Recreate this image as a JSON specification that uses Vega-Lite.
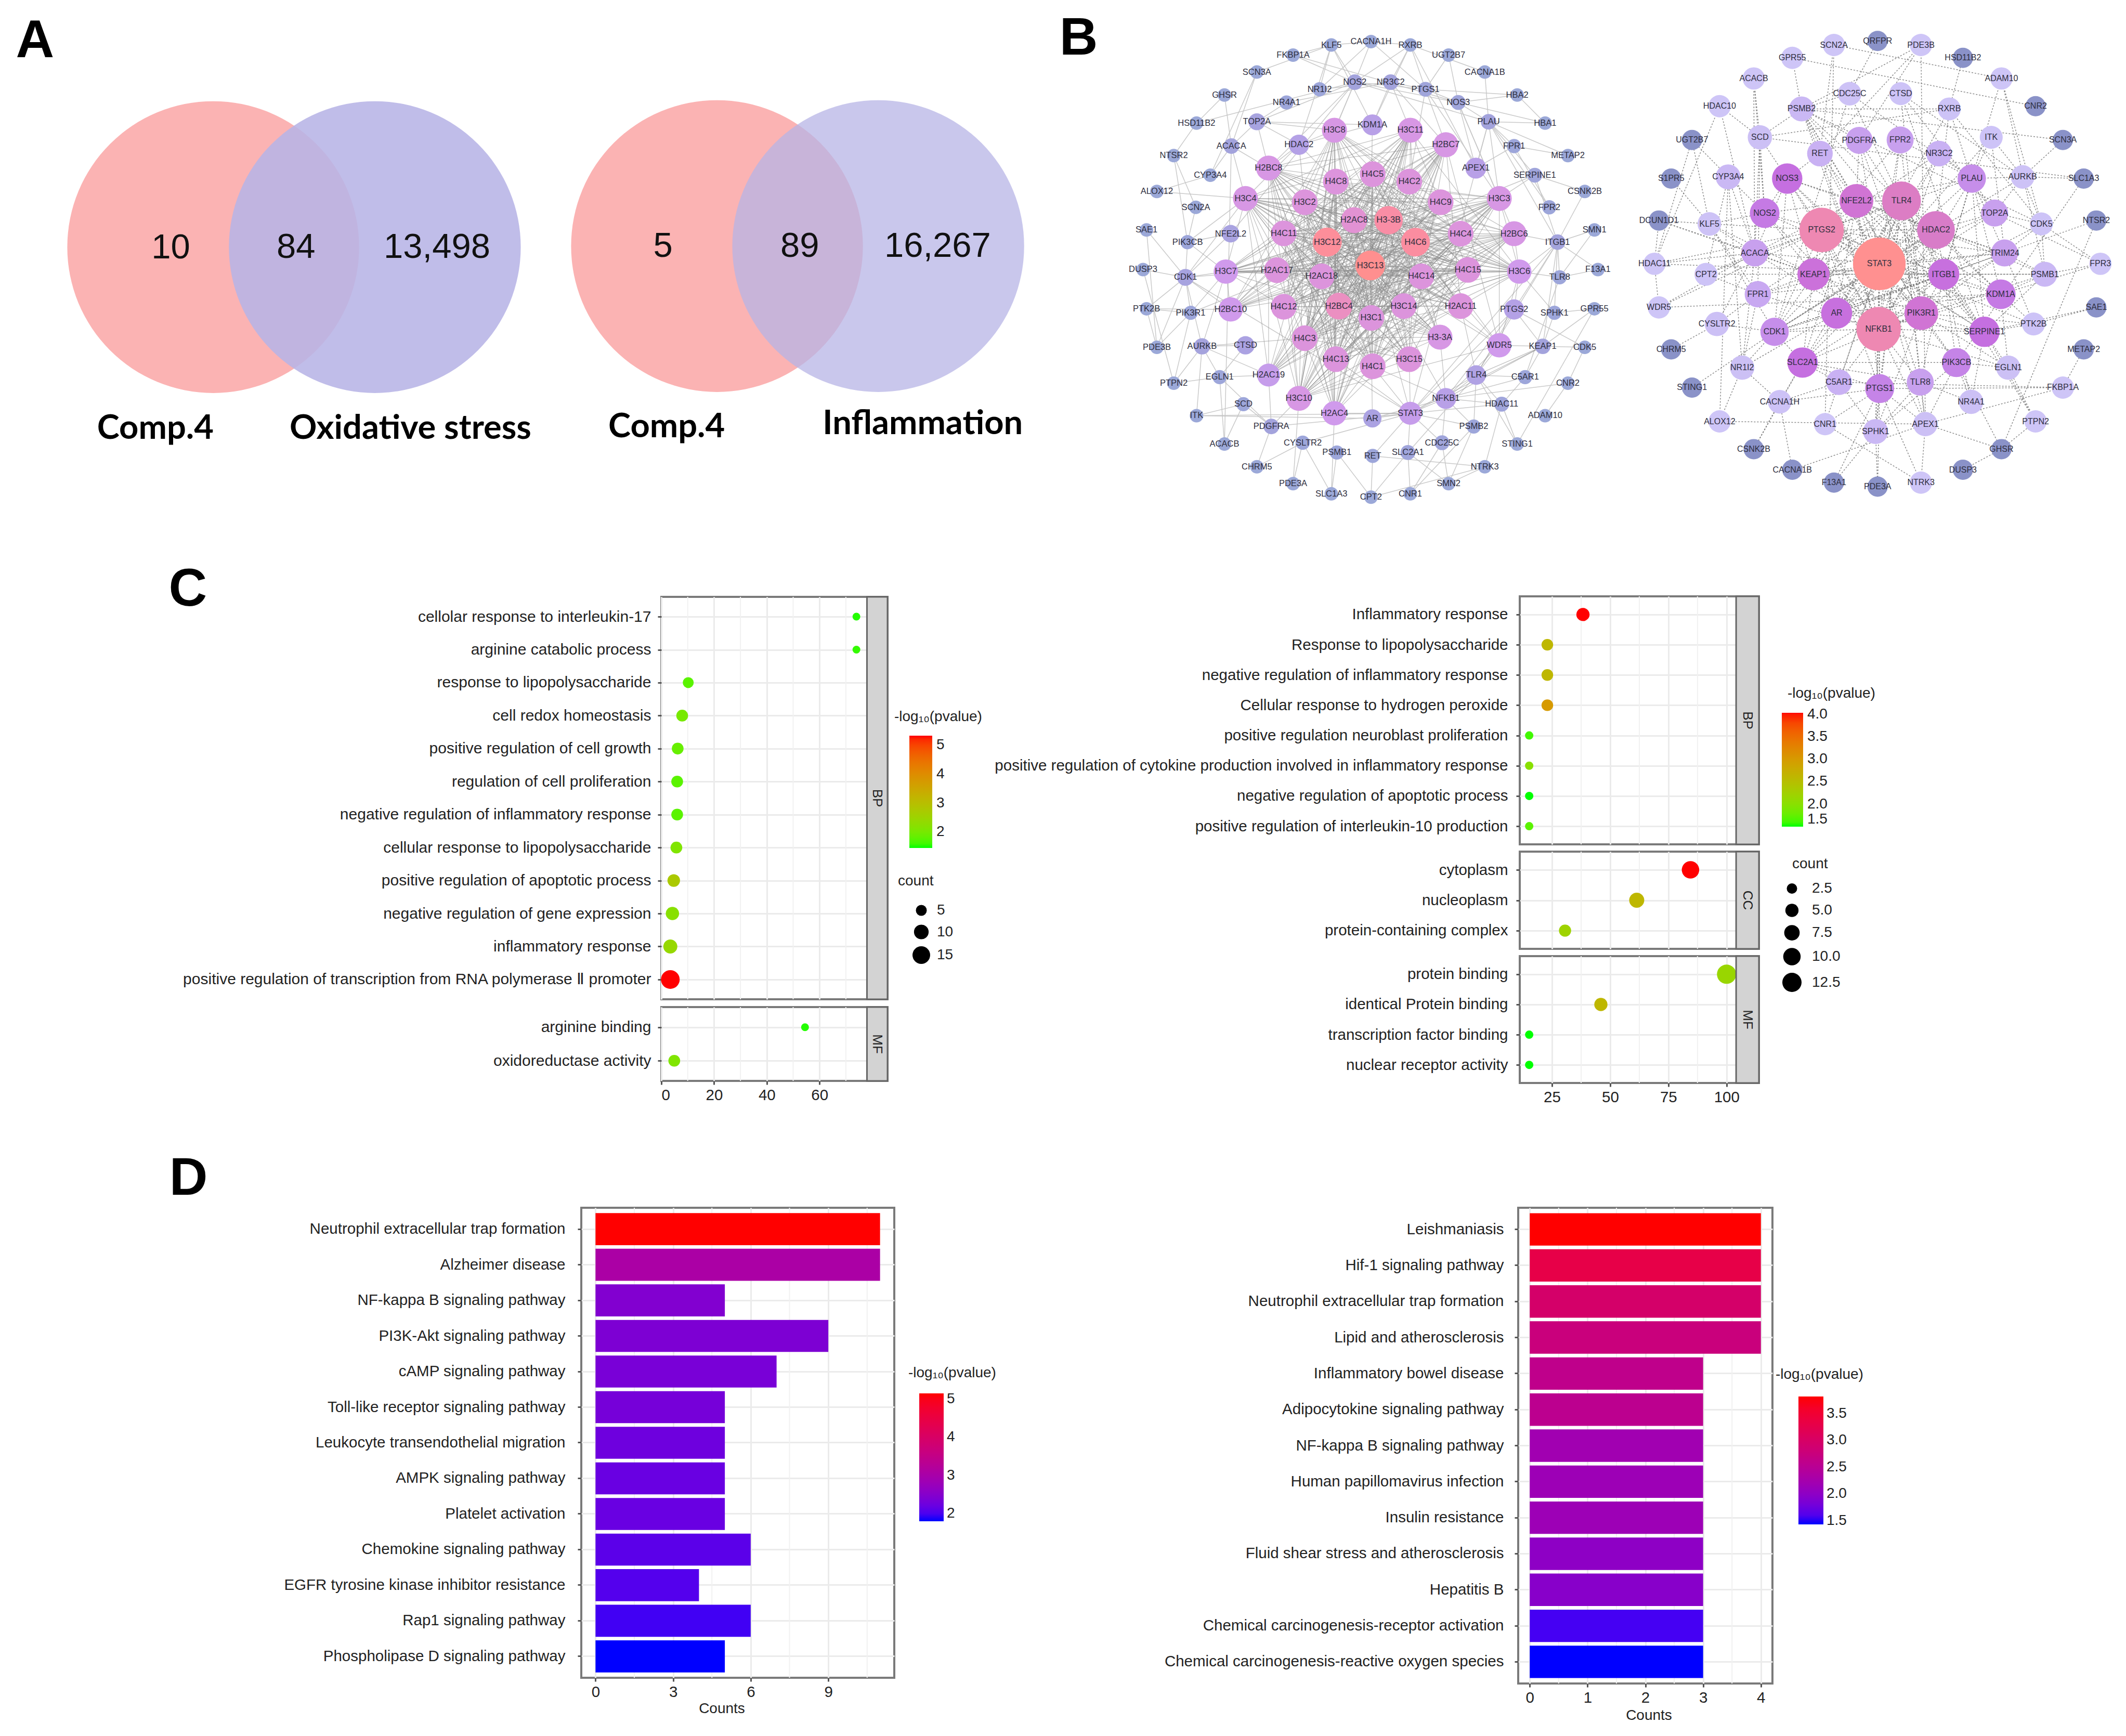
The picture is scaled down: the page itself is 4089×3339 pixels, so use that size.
{"$schema":"https://vega.github.io/schema/vega-lite/v6.json","padding":0,"background":"white","autosize":{"type":"pad"},
"resolve":{"scale":{"color":"independent","size":"independent","opacity":"independent"}},
"config":{"view":{"stroke":null},"font":"Liberation Sans","axis":{"labelFont":"Liberation Sans","titleFont":"Liberation Sans","labelFontSize":29.5,"titleFontSize":28,"titleFontWeight":"normal","labelColor":"#222","titleColor":"#222","tickColor":"#555","tickWidth":3,"tickSize":7,"domain":false,"gridColor":"#ebebeb","gridWidth":3,"labelLimit":1200,"labelPadding":8},"legend":{"titleFontSize":28,"titleFontWeight":"normal","labelFontSize":28,"titleColor":"#222","labelColor":"#222","gradientStrokeWidth":0,"labelOverlap":false,"titleLimit":400}},
"datasets":{
"n1":[{"id":"KLF5","x":785,"y":133,"d":40},{"id":"CACNA1H","x":900,"y":123,"d":40},{"id":"RXRB","x":1014,"y":133,"d":40},{"id":"UGT2B7","x":1125,"y":163,"d":40},{"id":"CACNA1B","x":1230,"y":213,"d":40},{"id":"HBA2","x":1324,"y":281,"d":40},{"id":"HBA1","x":1405,"y":364,"d":40},{"id":"METAP2","x":1471,"y":460,"d":40},{"id":"CSNK2B","x":1520,"y":566,"d":40},{"id":"SMN1","x":1548,"y":680,"d":40},{"id":"F13A1","x":1558,"y":797,"d":40},{"id":"GPR55","x":1548,"y":913,"d":40},{"id":"CDK5","x":1520,"y":1027,"d":40},{"id":"CNR2","x":1471,"y":1133,"d":40},{"id":"ADAM10","x":1405,"y":1229,"d":40},{"id":"STING1","x":1324,"y":1313,"d":40},{"id":"NTRK3","x":1230,"y":1380,"d":40},{"id":"SMN2","x":1125,"y":1430,"d":40},{"id":"CNR1","x":1014,"y":1460,"d":40},{"id":"CPT2","x":900,"y":1470,"d":40},{"id":"SLC1A3","x":785,"y":1460,"d":40},{"id":"PDE3A","x":674,"y":1430,"d":40},{"id":"CHRM5","x":569,"y":1380,"d":40},{"id":"ACACB","x":475,"y":1313,"d":40},{"id":"ITK","x":394,"y":1229,"d":40},{"id":"PTPN2","x":328,"y":1133,"d":40},{"id":"PDE3B","x":279,"y":1027,"d":40},{"id":"PTK2B","x":249,"y":913,"d":40},{"id":"DUSP3","x":239,"y":797,"d":40},{"id":"SAE1","x":249,"y":680,"d":40},{"id":"ALOX12","x":279,"y":566,"d":40},{"id":"NTSR2","x":328,"y":460,"d":40},{"id":"HSD11B2","x":394,"y":364,"d":40},{"id":"GHSR","x":475,"y":281,"d":40},{"id":"SCN3A","x":569,"y":213,"d":40},{"id":"FKBP1A","x":674,"y":163,"d":40},
{"id":"NOS2","x":853,"y":243,"d":46},{"id":"NR3C2","x":957,"y":243,"d":46},{"id":"PTGS1","x":1058,"y":264,"d":44},{"id":"NOS3","x":1153,"y":303,"d":44},{"id":"PLAU","x":1241,"y":360,"d":46},{"id":"FPR1","x":1315,"y":432,"d":42},{"id":"SERPINE1","x":1375,"y":518,"d":44},{"id":"FPR2","x":1417,"y":613,"d":42},{"id":"ITGB1","x":1441,"y":716,"d":46},{"id":"TLR8","x":1447,"y":820,"d":42},{"id":"SPHK1","x":1432,"y":925,"d":42},{"id":"KEAP1","x":1398,"y":1024,"d":46},{"id":"C5AR1","x":1347,"y":1115,"d":42},{"id":"HDAC11","x":1279,"y":1195,"d":44},{"id":"PSMB2","x":1198,"y":1261,"d":42},{"id":"CDC25C","x":1106,"y":1309,"d":44},{"id":"SLC2A1","x":1007,"y":1338,"d":44},{"id":"RET","x":905,"y":1348,"d":42},{"id":"PSMB1","x":801,"y":1338,"d":42},{"id":"CYSLTR2","x":702,"y":1309,"d":42},{"id":"PDGFRA","x":611,"y":1261,"d":46},{"id":"SCD","x":530,"y":1195,"d":42},{"id":"EGLN1","x":461,"y":1115,"d":42},{"id":"AURKB","x":410,"y":1024,"d":48},{"id":"PIK3R1","x":377,"y":925,"d":42},{"id":"CDK1","x":362,"y":820,"d":50},{"id":"PIK3CB","x":368,"y":716,"d":42},{"id":"SCN2A","x":392,"y":613,"d":40},{"id":"CYP3A4","x":434,"y":518,"d":40},{"id":"ACACA","x":495,"y":432,"d":46},{"id":"TOP2A","x":569,"y":360,"d":50},{"id":"NR4A1","x":655,"y":303,"d":42},{"id":"NR1I2","x":751,"y":264,"d":42},
{"id":"KDM1A","x":904,"y":369,"d":62},{"id":"H3C11","x":1014,"y":385,"d":74},{"id":"H2BC7","x":1117,"y":428,"d":74},{"id":"APEX1","x":1204,"y":497,"d":62},{"id":"H3C3","x":1272,"y":587,"d":74},{"id":"H2BC6","x":1315,"y":691,"d":74},{"id":"H3C6","x":1330,"y":803,"d":72},{"id":"PTGS2","x":1315,"y":915,"d":60},{"id":"WDR5","x":1272,"y":1021,"d":72},{"id":"TLR4","x":1205,"y":1109,"d":58},{"id":"NFKB1","x":1117,"y":1178,"d":62},{"id":"STAT3","x":1014,"y":1222,"d":68},{"id":"AR","x":904,"y":1237,"d":54},{"id":"H2AC4","x":794,"y":1222,"d":72},{"id":"H3C10","x":691,"y":1178,"d":74},{"id":"H2AC19","x":603,"y":1109,"d":68},{"id":"CTSD","x":536,"y":1021,"d":54},{"id":"H2BC10","x":493,"y":915,"d":72},{"id":"H3C7","x":479,"y":803,"d":72},{"id":"NFE2L2","x":493,"y":691,"d":52},{"id":"H3C4","x":536,"y":587,"d":74},{"id":"H2BC8","x":603,"y":497,"d":74},{"id":"HDAC2","x":691,"y":428,"d":60},{"id":"H3C8","x":794,"y":385,"d":74},
{"id":"H4C5","x":905,"y":515,"d":76},{"id":"H4C2","x":1011,"y":537,"d":76},{"id":"H4C9","x":1102,"y":598,"d":76},{"id":"H4C4","x":1160,"y":691,"d":76},{"id":"H4C15","x":1181,"y":798,"d":76},{"id":"H2AC11","x":1160,"y":905,"d":76},{"id":"H3-3A","x":1100,"y":997,"d":74},{"id":"H3C15","x":1011,"y":1062,"d":76},{"id":"H4C1","x":905,"y":1083,"d":76},{"id":"H4C13","x":798,"y":1062,"d":76},{"id":"H4C3","x":708,"y":1000,"d":76},{"id":"H4C12","x":647,"y":907,"d":76},{"id":"H2AC17","x":627,"y":799,"d":76},{"id":"H4C11","x":647,"y":690,"d":76},{"id":"H3C2","x":708,"y":598,"d":76},{"id":"H4C8","x":798,"y":537,"d":76},
{"id":"H2AC8","x":851,"y":651,"d":77},{"id":"H3-3B","x":951,"y":651,"d":84},{"id":"H4C6","x":1029,"y":716,"d":85},{"id":"H4C14","x":1046,"y":817,"d":76},{"id":"H3C14","x":995,"y":905,"d":76},{"id":"H3C1","x":901,"y":940,"d":76},{"id":"H2BC4","x":807,"y":905,"d":79},{"id":"H2AC18","x":757,"y":817,"d":76},{"id":"H3C12","x":773,"y":716,"d":86},{"id":"H3C13","x":898,"y":785,"d":88}],
"e1":[
{"s":"H3C13","t":["H3C12","H4C6","H3-3B","H2AC8","H2AC18","H4C14","H3C14","H3C1","H2BC4","H4C5","H4C2","H4C9","H4C4","H4C15","H2AC11","H3-3A","H3C15","H4C1","H4C13","H4C3","H4C12","H2AC17","H4C11","H3C2","H4C8","H3C11","H2BC7","H3C3","H2BC6","H3C6","H3C10","H2AC4","H2AC19","H2BC10","H3C7","H3C4","H2BC8","H3C8","WDR5","STAT3","NFKB1","KDM1A","AR"]},
{"s":"H3C12","t":["H4C6","H3-3B","H2AC8","H4C14","H3C14","H3C1","H2BC4","H4C5","H4C2","H4C9","H4C4","H4C15","H2AC11","H3-3A","H3C15","H4C1","H4C13","H4C3","H4C12","H2AC17","H4C11","H3C2","H4C8","H3C11","H2BC7","H3C3","H2BC6","H3C6","H3C10","H2AC4","H2AC19","H2BC10","H3C7","H3C4","H2BC8","H3C8"]},
{"s":"H4C6","t":["H3-3B","H2AC8","H2AC18","H3C14","H3C1","H2BC4","H4C5","H4C8","H3C2","H4C11","H2AC17","H4C12","H4C3","H4C13","H4C1","H3C15","H3-3A","H2AC11","H4C15","H3C3","H2BC6","H3C6","H3C10","H2AC4","H2AC19","H2BC10","H3C7","H3C4","H2BC8","H3C8","H3C11","H2BC7"]},
{"s":"H3-3B","t":["H2AC18","H4C14","H3C14","H3C1","H2BC4","H4C3","H4C13","H4C1","H3C15","H3-3A","H2AC11","H4C15","H4C12","H2AC17","H4C11","H3C10","H2AC4","H2AC19","H2BC10","H3C7","H3C6","WDR5"]},
{"s":"H2BC4","t":["H4C5","H4C2","H4C9","H4C4","H4C15","H2AC11","H3-3A","H3C15","H4C14","H2AC8","H3C2","H4C8","H3C11","H2BC7","H3C3","H2BC6","H3C6","H3C4","H2BC8","H3C8","H4C11"]},
{"s":"H3C1","t":["H4C5","H4C2","H4C8","H3C2","H4C9","H4C4","H4C11","H2AC17","H4C15","H3C4","H3C8","H3C11","H2BC8","H2BC7","H3C3","H2BC6","H3C7","H3C6","H2AC8","H2AC18"]},
{"s":"H4C5","t":["H4C1","H4C13","H3C15","H4C3","H3-3A","H4C12","H2AC11","H2AC17","H4C15","H4C11","H4C4","H3C7","H3C6","H3C10","H2AC4","WDR5","H2AC19","H2BC10","H2AC18","H4C14"]},
{"s":"H4C1","t":["H4C8","H4C2","H3C2","H4C9","H4C11","H4C4","H2AC17","H4C15","H3C4","H3C3","H3C8","H3C11","H2BC8","H2BC7","H2AC8","H2BC6"]},
{"s":"H4C11","t":["H4C4","H4C15","H2AC11","H4C14","H3C14","H3-3A","H3C15","H3C6","H2BC6","H3C3","H4C9","H2AC4","H3C10","H3C11","H2BC7","H3C8","H2BC10"]},
{"s":"H4C15","t":["H2AC17","H4C12","H2AC18","H2AC8","H3C7","H3C4","H2BC8","H2BC10","H3C10","H2AC19","H3C8","H3C2","H4C3"]},
{"s":"H2AC17","t":["H3C7","H4C14","H3C14","H3C3","H3C6","H2BC6","H4C4","H4C9","H2AC11","H3-3A","H2BC7"]},
{"s":"H3C7","t":["H3C6","H4C12","H4C11","H2AC18","H2BC10","H3C4","H4C14","CDK1","PIK3CB","PIK3R1","AURKB"]},
{"s":"H3C6","t":["H2AC11","H4C4","H2BC6","H3C3","WDR5","PTGS2","H2AC18","ITGB1","TLR8","SPHK1"]},
{"s":"STAT3","t":["AR","NFKB1","TLR4","H2AC4","KEAP1","H4C13","H3C15","H4C1"]},
{"s":"NFKB1","t":["TLR4","WDR5","KEAP1","H3-3A","H4C1"]},
{"s":"TLR4","t":["WDR5","KEAP1","PTGS2","H2AC11"]},
{"s":"H4C8","t":["H4C3","H4C13","H3C15","H4C12","H2AC11","H4C9","H4C4","H3C6","H2BC6","H3C3","H2AC18","H4C14","H3C14","H3C10","H2AC4"]},
{"s":"H3C2","t":["H4C9","H4C4","H3-3A","H3C15","H4C13","H4C14","H3C14","H2AC11","H4C15","H3C6","H2AC17","H4C12","H3C10","H2AC4"]},
{"s":"H4C9","t":["H4C3","H4C13","H4C12","H2AC18","H2AC8","H3C7","H2BC10","H2AC19","H3C10","H2AC4","H3C4","H3C14"]},
{"s":"H4C4","t":["H4C12","H4C3","H4C13","H2AC18","H2AC8","H3C10","H2BC10","H2AC19","H2BC8","H3C4"]},
{"s":"H4C12","t":["H4C14","H3C14","H2AC11","H3-3A","H3C15","H2BC6","H3C3","H3C11","H2BC7"]},
{"s":"H4C3","t":["H4C14","H3C14","H2AC11","H3-3A","H3C15","H3C3","H3C6","H2BC7","H3C11","H3C8"]},
{"s":"H4C13","t":["H4C14","H2AC11","H3-3A","H3C6","H3C3","H2BC6","H2BC7","H3C11","H3C8","H2BC8"]},
{"s":"H2AC18","t":["H4C14","H3C14","H2AC11","H3-3A","H3C3","H2BC7","H3C11","H3C10","H2AC4"]},
{"s":"H3C4","t":["H3C3","H2BC6","H3C6","H4C4","H4C15","H2AC11","H3-3A","H3C15","H4C1","H4C13","H3C10","H2AC4","H2AC19","H3C11","H2BC7","H3C14"]},
{"s":"H2BC8","t":["H3C3","H2BC6","H3C6","H2AC11","H3-3A","H3C15","H4C13","H4C3","H3C10","H2AC4","WDR5","H2AC19","H3C11","H2BC7","H4C4"]},
{"s":"H3C8","t":["H3C6","H2BC6","H2AC11","H3C15","H4C12","H4C3","H3C10","H2AC4","H2BC10","H2AC19","H3-3A","H4C9","H4C4"]},
{"s":"H3C11","t":["H2BC10","H3C7","H3C10","H2AC4","H2AC19","H4C3","H4C13","H4C12","H3C15","H4C15","H3C6"]},
{"s":"H2BC7","t":["H2BC10","H3C7","H3C10","H2AC4","H2AC19","WDR5","H4C3","H3C15","H2AC11"]},
{"s":"H3C3","t":["H2BC10","H3C7","H3C10","H2AC4","H2AC19","WDR5","H3C15","H4C13","H3C14"]},
{"s":"H2BC6","t":["H2BC10","H3C7","H3C10","H2AC4","H2AC19","H4C3","H4C12"]},
{"s":"H3C10","t":["WDR5","H2AC11","H3-3A","H3C15","H4C14","H3C14"]}],
"e1o":[
{"s":"STAT3","t":["SLC2A1","RET","CDC25C","PSMB2","CYSLTR2","PDGFRA","HDAC11","PTGS2","PLAU","ITGB1","CDK1"]},
{"s":"NFKB1","t":["C5AR1","HDAC11","PSMB2","CDC25C","PTGS2","AR"]},
{"s":"TLR4","t":["C5AR1","HDAC11","SLC2A1","PSMB2","ITGB1"]},
{"s":"KLF5","t":["NOS2","NR1I2","HDAC2","SCN3A","FKBP1A","KDM1A","CACNA1H"]},
{"s":"CACNA1H","t":["NR1I2","NOS2","RXRB","PTGS1"]},{"s":"RXRB","t":["NR3C2","NOS2","KDM1A","PTGS1","APEX1"]},{"s":"UGT2B7","t":["NOS3","PTGS1"]},{"s":"CACNA1B","t":["RXRB","PLAU"]},{"s":"HBA2","t":["HBA1","NOS3","PTGS1"]},{"s":"HBA1","t":["PLAU","NOS3"]},{"s":"METAP2","t":["PLAU","FPR1"]},{"s":"CSNK2B","t":["SERPINE1","ITGB1"]},{"s":"SMN1","t":["ITGB1","TLR8"]},{"s":"F13A1","t":["TLR8","ITGB1"]},{"s":"GPR55","t":["SPHK1","KEAP1","STING1"]},{"s":"CDK5","t":["KEAP1","PTGS2","CNR2"]},{"s":"CNR2","t":["ADAM10","NFKB1"]},{"s":"STING1","t":["TLR4","HDAC11"]},{"s":"NTRK3","t":["HDAC11","SMN2","RET"]},{"s":"SMN2","t":["PSMB2","CDC25C","SLC2A1"]},{"s":"CNR1","t":["SLC2A1","CDC25C","PSMB2"]},{"s":"CPT2","t":["RET","PSMB1","SLC2A1","NTRK3"]},{"s":"SLC1A3","t":["PSMB1","H2AC4","CYSLTR2"]},{"s":"PDE3A","t":["CYSLTR2","H3C10"]},{"s":"CHRM5","t":["PDGFRA","CYSLTR2"]},{"s":"ACACB","t":["SCD","EGLN1","ACACA"]},{"s":"ITK","t":["AR","STAT3","AURKB","SCD"]},{"s":"PTPN2","t":["EGLN1","AURKB","PIK3R1"]},{"s":"PDE3B","t":["PTK2B","PIK3R1","CDK1"]},{"s":"PTK2B","t":["PIK3R1","CDK1","H2BC10"]},{"s":"DUSP3","t":["PTPN2","CDK1"]},{"s":"SAE1","t":["CDK1","PDE3B"]},{"s":"ALOX12","t":["CYP3A4","H3C4"]},{"s":"NTSR2","t":["SCN2A","PIK3CB"]},{"s":"HSD11B2","t":["NOS2","NTSR2"]},{"s":"GHSR","t":["ACACA","HSD11B2"]},{"s":"SCN3A","t":["ACACA","CYP3A4"]},{"s":"FKBP1A","t":["NOS2","NOS3"]},
{"s":"NOS2","t":["NOS3","H3C8","NFE2L2","TOP2A","PLAU","PTGS1","H2BC8","H3C2"]},{"s":"NR3C2","t":["KDM1A","NR4A1","NR1I2","H3C11","H2BC7","PTGS1"]},{"s":"PTGS1","t":["NOS3","H2BC7","H3C3","H4C2"]},{"s":"NOS3","t":["PLAU","APEX1","H3C3","H2BC6"]},{"s":"PLAU","t":["FPR1","SERPINE1","APEX1","H3C3","ITGB1","FPR2"]},{"s":"FPR1","t":["APEX1","FPR2"]},{"s":"SERPINE1","t":["ITGB1","H3C3","PIK3R1"]},{"s":"ITGB1","t":["TLR8","SPHK1","KEAP1","H2BC6","PTGS2"]},{"s":"KEAP1","t":["WDR5","C5AR1","SPHK1","PTGS2"]},{"s":"C5AR1","t":["HDAC11","TLR8"]},{"s":"PDGFRA","t":["H3C10","H2AC19","EGLN1","SCD"]},{"s":"EGLN1","t":["H2AC19","AURKB","CTSD"]},{"s":"AURKB","t":["CDK1","CTSD","H2AC19","H4C3"]},{"s":"CDK1","t":["PIK3R1","H2BC10","H3C4","H2AC17","PIK3CB","NFE2L2"]},{"s":"PIK3CB","t":["H3C4","NFE2L2","SCN2A"]},{"s":"ACACA","t":["TOP2A","H2BC8","H3C4","CYP3A4"]},{"s":"TOP2A","t":["H2BC8","HDAC2","H3C8","KDM1A","NR4A1"]},{"s":"HDAC2","t":["H3C8","H3C4","H2BC8","H3C2","H4C8","KDM1A"]}],
"n2":[{"id":"QRFPR","x":840,"y":121,"d":60},{"id":"PDE3B","x":967,"y":133,"d":66},{"id":"HSD11B2","x":1090,"y":171,"d":60},{"id":"ADAM10","x":1203,"y":232,"d":66},{"id":"CNR2","x":1303,"y":314,"d":60},{"id":"SCN3A","x":1383,"y":414,"d":60},{"id":"SLC1A3","x":1444,"y":528,"d":60},{"id":"NTSR2","x":1481,"y":652,"d":60},{"id":"FPR3","x":1493,"y":780,"d":66},{"id":"SAE1","x":1481,"y":909,"d":60},{"id":"METAP2","x":1444,"y":1033,"d":60},{"id":"FKBP1A","x":1383,"y":1146,"d":66},{"id":"PTPN2","x":1303,"y":1246,"d":66},{"id":"GHSR","x":1203,"y":1328,"d":60},{"id":"DUSP3","x":1090,"y":1389,"d":60},{"id":"NTRK3","x":967,"y":1427,"d":66},{"id":"PDE3A","x":840,"y":1439,"d":60},{"id":"F13A1","x":712,"y":1427,"d":60},{"id":"CACNA1B","x":590,"y":1389,"d":60},{"id":"CSNK2B","x":477,"y":1328,"d":60},{"id":"ALOX12","x":377,"y":1246,"d":66},{"id":"STING1","x":296,"y":1146,"d":60},{"id":"CHRM5","x":235,"y":1033,"d":60},{"id":"WDR5","x":199,"y":909,"d":66},{"id":"HDAC11","x":186,"y":780,"d":66},{"id":"DCUN1D1","x":199,"y":652,"d":60},{"id":"S1PR5","x":235,"y":528,"d":60},{"id":"UGT2B7","x":296,"y":414,"d":60},{"id":"HDAC10","x":377,"y":314,"d":66},{"id":"ACACB","x":477,"y":232,"d":66},{"id":"GPR55","x":590,"y":171,"d":66},{"id":"SCN2A","x":712,"y":133,"d":66},
{"id":"CDC25C","x":758,"y":277,"d":70},{"id":"CTSD","x":908,"y":277,"d":68},{"id":"RXRB","x":1050,"y":322,"d":68},{"id":"ITK","x":1173,"y":406,"d":68},{"id":"AURKB","x":1265,"y":523,"d":70},{"id":"CDK5","x":1320,"y":662,"d":68},{"id":"PSMB1","x":1330,"y":811,"d":74},{"id":"PTK2B","x":1297,"y":958,"d":68},{"id":"EGLN1","x":1223,"y":1087,"d":72},{"id":"NR4A1","x":1114,"y":1188,"d":72},{"id":"APEX1","x":980,"y":1254,"d":72},{"id":"SPHK1","x":834,"y":1276,"d":74},{"id":"CNR1","x":686,"y":1254,"d":66},{"id":"CACNA1H","x":553,"y":1188,"d":70},{"id":"NR1I2","x":443,"y":1087,"d":72},{"id":"CYSLTR2","x":369,"y":958,"d":72},{"id":"CPT2","x":337,"y":811,"d":68},{"id":"KLF5","x":347,"y":662,"d":70},{"id":"CYP3A4","x":402,"y":523,"d":74},{"id":"SCD","x":495,"y":406,"d":72},{"id":"PSMB2","x":617,"y":322,"d":74},
{"id":"PDGFRA","x":786,"y":415,"d":80},{"id":"FPR2","x":906,"y":414,"d":80},{"id":"NR3C2","x":1020,"y":454,"d":76},{"id":"PLAU","x":1116,"y":528,"d":84},{"id":"TOP2A","x":1183,"y":630,"d":80},{"id":"TRIM24","x":1212,"y":748,"d":80},{"id":"KDM1A","x":1201,"y":870,"d":88},{"id":"SERPINE1","x":1153,"y":981,"d":90},{"id":"PIK3CB","x":1071,"y":1072,"d":86},{"id":"TLR8","x":965,"y":1130,"d":80},{"id":"PTGS1","x":846,"y":1149,"d":86},{"id":"C5AR1","x":727,"y":1130,"d":76},{"id":"SLC2A1","x":620,"y":1072,"d":90},{"id":"CDK1","x":538,"y":981,"d":84},{"id":"FPR1","x":489,"y":870,"d":78},{"id":"ACACA","x":480,"y":748,"d":80},{"id":"NOS2","x":509,"y":630,"d":88},{"id":"NOS3","x":575,"y":528,"d":90},{"id":"RET","x":671,"y":454,"d":76},
{"id":"STAT3","x":845,"y":780,"d":156},{"id":"PTGS2","x":676,"y":680,"d":132},{"id":"NFE2L2","x":778,"y":594,"d":100},{"id":"TLR4","x":910,"y":594,"d":115},{"id":"HDAC2","x":1011,"y":680,"d":112},{"id":"ITGB1","x":1034,"y":811,"d":92},{"id":"PIK3R1","x":968,"y":926,"d":100},{"id":"NFKB1","x":843,"y":973,"d":132},{"id":"AR","x":720,"y":926,"d":92},{"id":"KEAP1","x":652,"y":811,"d":95}],
"e2":[
{"s":"STAT3","t":["PTGS2","NFE2L2","TLR4","HDAC2","ITGB1","PIK3R1","NFKB1","AR","KEAP1","NOS3","NOS2","PLAU","KDM1A","SERPINE1","SLC2A1","CDK1","TRIM24","TOP2A","FPR1","FPR2","RET","PTGS1","TLR8","C5AR1","ACACA","PDGFRA","NR3C2","PIK3CB","PSMB2","PTK2B","ITK","SPHK1","APEX1"]},
{"s":"NFKB1","t":["PTGS2","TLR4","HDAC2","KEAP1","NFE2L2","ITGB1","PIK3R1","NOS2","NOS3","KDM1A","TRIM24","PLAU","SERPINE1","CDK1","FPR1","C5AR1","TLR8","PTGS1","APEX1","SPHK1","ACACA","PSMB1","PSMB2","EGLN1","FPR2","RET","NR3C2"]},
{"s":"PTGS2","t":["TLR4","HDAC2","NFE2L2","KEAP1","ITGB1","NOS3","PLAU","PTGS1","CDK1","ACACA","FPR2","SERPINE1","PIK3R1","NR3C2","AR","CPT2","KLF5","TRIM24","KDM1A","NOS2"]},
{"s":"TLR4","t":["NFE2L2","HDAC2","ITGB1","KEAP1","PIK3R1","AR","SERPINE1","TLR8","PTGS1","SLC2A1","APEX1","C5AR1","SPHK1","CDK1","FPR1"]},
{"s":"HDAC2","t":["AR","KEAP1","PIK3R1","KDM1A","TRIM24","TOP2A","CDK1","SLC2A1","NFE2L2","NOS3","RXRB","PSMB1"]},
{"s":"ITGB1","t":["PLAU","PLAU","SERPINE1","CDK1","CDK1","PIK3R1","PDGFRA","KEAP1","AR","PIK3CB","TRIM24","FPR1","PSMB1","ADAM10","CDK5","HDAC11","TLR8","PTPN2","SLC2A1"]},
{"s":"PIK3R1","t":["PIK3CB","AR","SLC2A1","CDK1","PTK2B","SPHK1","NOS3","NFE2L2","PDGFRA","FPR2","KEAP1","TRIM24","EGLN1","SERPINE1"]},
{"s":"AR","t":["KDM1A","TRIM24","NR3C2","NR1I2","CDK1","KEAP1","RXRB","NFE2L2","TOP2A","SERPINE1"]},
{"s":"KEAP1","t":["NFE2L2","CDK1","ACACA","NOS2","TRIM24","PSMB1","SLC2A1","FPR1","KLF5"]},
{"s":"NFE2L2","t":["NOS3","NOS2","RET","PDGFRA","SERPINE1","KDM1A","PTGS1","SLC2A1","PLAU","ACACA","TRIM24"]},
{"s":"GPR55","t":["PSMB2","CNR2"]},{"s":"SCN2A","t":["RET","ADAM10","CNR1"]},{"s":"QRFPR","t":["CDC25C"]},{"s":"PDE3B","t":["RET","PDGFRA","PSMB2","APEX1"]},{"s":"HSD11B2","t":["RXRB"]},{"s":"ADAM10","t":["PSMB1","CDK5"]},{"s":"SCN3A","t":["AURKB","PSMB2"]},{"s":"SLC1A3","t":["AURKB","PIK3CB","SCD"]},{"s":"NTSR2","t":["TRIM24","GHSR"]},{"s":"FPR3","t":["KDM1A","TOP2A","CDK5","PSMB1"]},{"s":"SAE1","t":["PTK2B","SERPINE1"]},{"s":"METAP2","t":["FKBP1A"]},{"s":"FKBP1A","t":["PTGS1","APEX1","C5AR1"]},{"s":"PTPN2","t":["EGLN1","SERPINE1"]},{"s":"GHSR","t":["APEX1","DUSP3","PTPN2","PIK3CB"]},{"s":"NTRK3","t":["CNR1","APEX1","PTGS1"]},{"s":"PDE3A","t":["SPHK1","PTGS1"]},{"s":"F13A1","t":["SPHK1","PTGS1"]},{"s":"CACNA1B","t":["APEX1","CACNA1H"]},{"s":"CSNK2B","t":["CACNA1H","SLC2A1"]},{"s":"ALOX12","t":["NR1I2","CYP3A4","APEX1"]},{"s":"STING1","t":["CDK1"]},{"s":"CHRM5","t":["CYSLTR2"]},{"s":"WDR5","t":["KDM1A","ACACA","HDAC11","PTGS2"]},{"s":"HDAC11","t":["DCUN1D1","ACACA","PTGS2"]},{"s":"DCUN1D1","t":["ACACA","KLF5","KEAP1"]},{"s":"S1PR5","t":["KLF5"]},{"s":"UGT2B7","t":["KLF5","CYP3A4","HDAC11"]},{"s":"HDAC10","t":["SCD","ACACA","HDAC11"]},{"s":"ACACB","t":["SCD","NOS2","ACACA"]},{"s":"SCD","t":["PSMB2","ACACA","RXRB","NOS3","NOS2","FPR1"]},{"s":"KLF5","t":["ACACA","NOS2","FPR1","CDK1"]},{"s":"CYP3A4","t":["NOS2","NR1I2","ACACA","CPT2"]},{"s":"PSMB2","t":["RET","PDGFRA","KDM1A","NFE2L2","PIK3R1","CDC25C","SERPINE1","CDK5"]},{"s":"CDC25C","t":["CDK1","PLAU","TLR4"]},{"s":"CTSD","t":["SERPINE1","AURKB","PIK3R1","TOP2A"]},{"s":"RXRB","t":["PSMB2","PLAU","CDK5"]},{"s":"ITK","t":["TRIM24","PLAU","AURKB"]},{"s":"AURKB","t":["CDK5","CDK1","TOP2A"]},{"s":"CDK5","t":["TRIM24","PSMB1","TOP2A"]},{"s":"PSMB1","t":["KDM1A","TRIM24","SERPINE1"]},{"s":"PTK2B","t":["KDM1A","SERPINE1","TRIM24"]},{"s":"EGLN1","t":["SERPINE1","PIK3CB","KDM1A"]},{"s":"NR4A1","t":["PIK3CB","SERPINE1","TLR8","HDAC2"]},{"s":"APEX1","t":["TLR8","PTGS1","PIK3CB"]},{"s":"SPHK1","t":["PTGS1","TLR8","C5AR1","PIK3CB"]},{"s":"CNR1","t":["C5AR1","PTGS1"]},{"s":"CACNA1H","t":["NR1I2","SLC2A1","PTGS1","C5AR1"]},{"s":"NR1I2","t":["ACACA","CDK1","FPR1"]},{"s":"CYSLTR2","t":["ACACA","CDK1","FPR1"]},{"s":"CPT2","t":["ACACA","FPR1","KEAP1"]},{"s":"SLC2A1","t":["CDK1","PIK3CB","PTGS1","C5AR1","TLR8"]},{"s":"NOS3","t":["NOS2","RET","ACACA","KEAP1","CDK1"]},{"s":"PLAU","t":["TOP2A","SERPINE1","KDM1A","TRIM24","NR3C2","FPR2","AURKB"]}]
},
"vconcat":[
{"resolve":{"scale":{"color":"independent","size":"independent","opacity":"independent"}},"hconcat":[
{"width":2040,"height":1020,"layer":[
{"data":{"values":[{"set":"Comp.4","x":20.1,"y":46.6},{"set":"Oxidative stress","x":35.34,"y":46.6},{"set":"Comp.4","x":67.6,"y":46.4},{"set":"Inflammation","x":82.8,"y":46.4}]},"mark":{"type":"point","filled":true,"size":315000},"encoding":{"x":{"field":"x","type":"quantitative","scale":{"domain":[0,100],"nice":false},"axis":null},"y":{"field":"y","type":"quantitative","scale":{"domain":[100,0],"nice":false},"axis":null},"color":{"field":"set","type":"nominal","legend":null,"scale":{"domain":["Comp.4","Oxidative stress","Inflammation"],"range":["#fbb3b3","#b7b4e6","#b7b4e6"]}},"opacity":{"field":"set","type":"nominal","legend":null,"scale":{"domain":["Comp.4","Oxidative stress","Inflammation"],"range":[1,0.75,0.75]}}}},
{"data":{"values":[{"n":"10","x":16.1,"y":46.8},{"n":"84","x":27.9,"y":46.7},{"n":"13,498","x":41.2,"y":46.7},{"n":"5","x":62.5,"y":46.5},{"n":"89","x":75.4,"y":46.5},{"n":"16,267","x":88.4,"y":46.5}]},"mark":{"type":"text","fontSize":67,"font":"Liberation Sans","color":"#111"},"encoding":{"x":{"field":"x","type":"quantitative"},"y":{"field":"y","type":"quantitative"},"text":{"field":"n"}}},
{"data":{"values":[{"n":"Comp.4","x":14.65,"y":80.8},{"n":"Oxidative stress","x":38.7,"y":80.8},{"n":"Comp.4","x":62.85,"y":80.5},{"n":"Inflammation","x":87,"y":79.9}]},"mark":{"type":"text","fontSize":65,"font":"Lato","fontWeight":"bold","color":"#000"},"encoding":{"x":{"field":"x","type":"quantitative"},"y":{"field":"y","type":"quantitative"},"text":{"field":"n"}}},
{"data":{"values":[{"n":"A","x":3.3,"y":7.7}]},"mark":{"type":"text","fontSize":102,"font":"Liberation Sans","fontWeight":"bold","color":"#000"},"encoding":{"x":{"field":"x","type":"quantitative"},"y":{"field":"y","type":"quantitative"},"text":{"field":"n"}}}
]},
{"width":1020,"height":1020,"encoding":{"x":{"field":"x","type":"quantitative","scale":{"domain":[0,1538],"nice":false,"zero":false},"axis":null},"y":{"field":"y","type":"quantitative","scale":{"domain":[1568,0],"nice":false,"zero":false},"axis":null}},"layer":[
{"data":{"name":"e1o"},"transform":[{"flatten":["t"]},{"lookup":"s","from":{"data":{"name":"n1"},"key":"id","fields":["x","y"]}},{"lookup":"t","from":{"data":{"name":"n1"},"key":"id","fields":["x","y"]},"as":["x2","y2"]}],"mark":{"type":"rule","color":"#c4c4c4","strokeWidth":1.5,"opacity":0.9},"encoding":{"x2":{"field":"x2"},"y2":{"field":"y2"}}},
{"data":{"name":"e1"},"transform":[{"flatten":["t"]},{"lookup":"s","from":{"data":{"name":"n1"},"key":"id","fields":["x","y"]}},{"lookup":"t","from":{"data":{"name":"n1"},"key":"id","fields":["x","y"]},"as":["x2","y2"]}],"mark":{"type":"rule","color":"#8c8c8c","strokeWidth":1.2,"opacity":0.55},"encoding":{"x2":{"field":"x2"},"y2":{"field":"y2"}}},
{"data":{"name":"n1"},"mark":{"type":"point","filled":true,"opacity":1},"encoding":{"size":{"field":"d","type":"quantitative","legend":null,"scale":{"type":"pow","exponent":2,"domain":[40,88],"range":[676,3272]}},"color":{"field":"d","type":"quantitative","legend":null,"scale":{"domain":[40,46,58,72,76,80,88],"range":["#9ba8d8","#a3a3dc","#b0a2e4","#d09aec","#dc94dc","#ee8fb8","#ff8f8f"]}}}},
{"data":{"name":"n1"},"mark":{"type":"text","fontSize":16.5,"font":"Liberation Sans","color":"#2e2e3e"},"encoding":{"text":{"field":"id"}}},
{"data":{"values":[{"n":"B","x":52,"y":113}]},"mark":{"type":"text","fontSize":102,"font":"Liberation Sans","fontWeight":"bold","color":"#000"},"encoding":{"text":{"field":"n"}}}
]},
{"width":1029,"height":1020,"encoding":{"x":{"field":"x","type":"quantitative","scale":{"domain":[0,1568],"nice":false,"zero":false},"axis":null},"y":{"field":"y","type":"quantitative","scale":{"domain":[1568,0],"nice":false,"zero":false},"axis":null}},"layer":[
{"data":{"name":"e2"},"transform":[{"flatten":["t"]},{"lookup":"s","from":{"data":{"name":"n2"},"key":"id","fields":["x","y"]}},{"lookup":"t","from":{"data":{"name":"n2"},"key":"id","fields":["x","y"]},"as":["x2","y2"]}],"mark":{"type":"rule","color":"#777","strokeWidth":1.5,"strokeDash":[3,3],"opacity":0.85},"encoding":{"x2":{"field":"x2"},"y2":{"field":"y2"}}},
{"data":{"name":"n2"},"mark":{"type":"point","filled":true,"opacity":1},"encoding":{"size":{"field":"d","type":"quantitative","legend":null,"scale":{"type":"pow","exponent":2,"domain":[60,156],"range":[1521,10236]}},"color":{"field":"d","type":"quantitative","legend":null,"scale":{"domain":[60,64,72,80,90,112,132,156],"range":["#8a92c8","#cfc6f8","#ccc0f5","#c8a0ee","#c56fe0","#d87cc8","#ee88b2","#ff9090"]}}}},
{"data":{"name":"n2"},"mark":{"type":"text","fontSize":16,"font":"Liberation Sans","color":"#2e2e3e"},"encoding":{"text":{"field":"id"}}}
]}
],"spacing":0,"bounds":"flush","align":"none"},
{"resolve":{"scale":{"color":"independent","size":"independent","opacity":"independent"}},"hconcat":[
{"width":1272,"height":1300,"data":{"values":[{"n":"C","x":28.4,"y":8.8},{"n":"D","x":28.5,"y":95.9}]},"mark":{"type":"text","fontSize":102,"font":"Liberation Sans","fontWeight":"bold","color":"#000"},"encoding":{"x":{"field":"x","type":"quantitative","scale":{"domain":[0,100],"nice":false},"axis":null},"y":{"field":"y","type":"quantitative","scale":{"domain":[100,0],"nice":false},"axis":null},"text":{"field":"n"}}},
{"resolve":{"scale":{"color":"independent","size":"independent"}},"vconcat":[
{"width":435,"height":113,"data":{"values":[]},"mark":"rect","encoding":{}},
{"width":435,"height":774,"view":{"stroke":"#7a7a7a","strokeWidth":4},"layer":[
{"data":{"values":[{"v":10},{"v":30},{"v":50},{"v":70}]},"mark":{"type":"rule","color":"#f1f1f1","strokeWidth":2},"encoding":{"x":{"field":"v","type":"quantitative","scale":{"domain":[0,85.8],"nice":false},"axis":{"values":[0,20,40,60],"labels":false,"ticks":false,"title":null}}}},
{"data":{"values":[{"term":"cellolar response to interleukin-17","rich":74,"count":2,"p":1.5},{"term":"arginine catabolic process","rich":74,"count":2,"p":1.55},{"term":"response to lipopolysaccharide","rich":10.2,"count":5,"p":1.75},{"term":"cell redox homeostasis","rich":7.9,"count":6,"p":2.0},{"term":"positive regulation of cell growth","rich":6.2,"count":6,"p":1.85},{"term":"regulation of cell proliferation","rich":6,"count":6,"p":1.75},{"term":"negative regulation of inflammatory response","rich":6,"count":6,"p":1.75},{"term":"cellular response to lipopolysaccharide","rich":5.7,"count":6,"p":2.1},{"term":"positive regulation of apoptotic process","rich":4.7,"count":7,"p":2.75},{"term":"negative regulation of gene expression","rich":4.2,"count":8,"p":2.2},{"term":"inflammatory response","rich":3.4,"count":9,"p":2.4},{"term":"positive regulation of transcription from RNA polymerase Ⅱ promoter","rich":3.4,"count":17,"p":5.33}]},"mark":{"type":"point","filled":true,"opacity":1},"encoding":{"x":{"field":"rich","type":"quantitative","scale":{"domain":[0,85.8],"nice":false},"axis":{"values":[0,20,40,60],"labels":false,"ticks":false,"title":null}},"y":{"field":"term","type":"nominal","sort":null,"scale":{"type":"point","padding":0.6},"axis":{"title":null,"grid":true,"labelFontSize":30,"labelPadding":13}},"size":{"field":"count","type":"quantitative","scale":{"domain":[2,17],"range":[225,1296]},"legend":{"orient":"none","legendX":455,"legendY":533,"title":"count","values":[5,10,15],"symbolFillColor":"#000","symbolStrokeWidth":0,"symbolOpacity":1,"titlePadding":28,"rowPadding":13,"labelOffset":13,"encoding":{"title":{"dx":{"value":-28}}}}},"color":{"field":"p","type":"quantitative","scale":{"domain":[1.45,5.33],"range":["#00ff00","#ff0000"],"interpolate":"lab"},"legend":{"orient":"none","legendX":448,"legendY":217,"title":"-log₁₀(pvalue)","values":[2,3,4,5],"gradientLength":216,"gradientThickness":44,"titlePadding":22,"labelOffset":8,"encoding":{"title":{"dx":{"value":-29}}}}}}},
{"data":{"values":[{"a":78,"b":85.8,"n":"BP"}]},"layer":[{"mark":{"type":"rect","fill":"#d3d3d3","stroke":"#666","strokeWidth":3},"encoding":{"x":{"field":"a","type":"quantitative"},"x2":{"field":"b"}}},{"mark":{"type":"text","fontSize":26,"angle":90,"color":"#222"},"encoding":{"x":{"datum":81.9,"type":"quantitative"},"text":{"field":"n"}}}]}
]},
{"width":435,"height":142,"view":{"stroke":"#7a7a7a","strokeWidth":4},"layer":[
{"data":{"values":[{"v":10},{"v":30},{"v":50},{"v":70}]},"mark":{"type":"rule","color":"#f1f1f1","strokeWidth":2},"encoding":{"x":{"field":"v","type":"quantitative","scale":{"domain":[0,85.8],"nice":false},"axis":{"values":[0,20,40,60],"title":null,"labelPadding":6}}}},
{"data":{"values":[{"term":"arginine binding","rich":54.5,"count":2,"p":1.5},{"term":"oxidoreductase activity","rich":4.9,"count":6,"p":2.1}]},"mark":{"type":"point","filled":true,"opacity":1},"encoding":{"x":{"field":"rich","type":"quantitative","scale":{"domain":[0,85.8],"nice":false},"axis":{"values":[0,20,40,60],"title":null,"labelPadding":6}},"y":{"field":"term","type":"nominal","sort":null,"scale":{"type":"point","padding":0.6},"axis":{"title":null,"grid":true,"labelFontSize":30,"labelPadding":13}},"size":{"field":"count","type":"quantitative","scale":{"domain":[2,17],"range":[225,1296]},"legend":null},"color":{"field":"p","type":"quantitative","scale":{"domain":[1.45,5.33],"range":["#00ff00","#ff0000"],"interpolate":"lab"},"legend":null}}},
{"data":{"values":[{"a":78,"b":85.8,"n":"MF"}]},"layer":[{"mark":{"type":"rect","fill":"#d3d3d3","stroke":"#666","strokeWidth":3},"encoding":{"x":{"field":"a","type":"quantitative"},"x2":{"field":"b"}}},{"mark":{"type":"text","fontSize":26,"angle":90,"color":"#222"},"encoding":{"x":{"datum":81.9,"type":"quantitative"},"text":{"field":"n"}}}]}
]}
],"spacing":15,"bounds":"flush","align":"none"},
{"width":1651,"height":1300,"data":{"values":[]},"mark":"rect","encoding":{}},
{"resolve":{"scale":{"color":"independent","size":"independent"}},"vconcat":[
{"width":460,"height":113,"data":{"values":[]},"mark":"rect","encoding":{}},
{"width":460,"height":477,"view":{"stroke":"#7a7a7a","strokeWidth":4},"layer":[
{"data":{"values":[{"v":37.5},{"v":62.5},{"v":87.5}]},"mark":{"type":"rule","color":"#f1f1f1","strokeWidth":2},"encoding":{"x":{"field":"v","type":"quantitative","scale":{"domain":[11.15,113.9],"nice":false,"zero":false},"axis":{"values":[25,50,75,100],"labels":false,"ticks":false,"title":null}}}},
{"data":{"values":[{"term":"Inflammatory response","rich":38.3,"count":5,"p":4.03},{"term":"Response to lipopolysaccharide","rich":23,"count":3.5,"p":2.6},{"term":"negative regulation of inflammatory response","rich":23,"count":3.5,"p":2.6},{"term":"Cellular response to hydrogen peroxide","rich":23,"count":3.5,"p":3.0},{"term":"positive regulation neuroblast proliferation","rich":15.2,"count":1,"p":1.6},{"term":"positive regulation of cytokine production involved in inflammatory response","rich":15.2,"count":1,"p":2.0},{"term":"negative regulation of apoptotic process","rich":15.2,"count":1,"p":1.5},{"term":"positive regulation of interleukin-10  production","rich":15.2,"count":1,"p":1.7}]},"mark":{"type":"point","filled":true,"opacity":1},"encoding":{"x":{"field":"rich","type":"quantitative","scale":{"domain":[11.15,113.9],"nice":false,"zero":false},"axis":{"values":[25,50,75,100],"labels":false,"ticks":false,"title":null}},"y":{"field":"term","type":"nominal","sort":null,"scale":{"type":"point","padding":0.6},"axis":{"title":null,"grid":true,"labelPadding":16}},"size":{"field":"count","type":"quantitative","scale":{"domain":[1,12.5],"range":[256,1369]},"legend":{"orient":"none","legendX":505,"legendY":501,"title":"count","values":[2.5,5,7.5,10,12.5],"format":".1f","symbolFillColor":"#000","symbolStrokeWidth":0,"symbolOpacity":1,"titlePadding":19,"rowPadding":14,"labelOffset":20,"encoding":{"title":{"dx":{"value":19}}}}},"color":{"field":"p","type":"quantitative","scale":{"domain":[1.5,4.03],"range":["#00ff00","#ff0000"],"interpolate":"lab"},"legend":{"orient":"none","legendX":504,"legendY":173,"title":"-log₁₀(pvalue)","values":[1.5,2,2.5,3,3.5,4],"format":".1f","gradientLength":219,"gradientThickness":41,"titlePadding":23,"labelOffset":8,"encoding":{"title":{"dx":{"value":11}}}}}}},
{"data":{"values":[{"a":104.1,"b":113.9,"n":"BP"}]},"layer":[{"mark":{"type":"rect","fill":"#d3d3d3","stroke":"#666","strokeWidth":3},"encoding":{"x":{"field":"a","type":"quantitative"},"x2":{"field":"b"}}},{"mark":{"type":"text","fontSize":26,"angle":90,"color":"#222"},"encoding":{"x":{"datum":109,"type":"quantitative"},"text":{"field":"n"}}}]}
]},
{"width":460,"height":187,"view":{"stroke":"#7a7a7a","strokeWidth":4},"layer":[
{"data":{"values":[{"v":37.5},{"v":62.5},{"v":87.5}]},"mark":{"type":"rule","color":"#f1f1f1","strokeWidth":2},"encoding":{"x":{"field":"v","type":"quantitative","scale":{"domain":[11.15,113.9],"nice":false,"zero":false},"axis":{"values":[25,50,75,100],"labels":false,"ticks":false,"title":null}}}},
{"data":{"values":[{"term":"cytoplasm","rich":84.5,"count":10,"p":4.03},{"term":"nucleoplasm","rich":61.4,"count":7,"p":2.6},{"term":"protein-containing complex","rich":30.6,"count":4,"p":2.2}]},"mark":{"type":"point","filled":true,"opacity":1},"encoding":{"x":{"field":"rich","type":"quantitative","scale":{"domain":[11.15,113.9],"nice":false,"zero":false},"axis":{"values":[25,50,75,100],"labels":false,"ticks":false,"title":null}},"y":{"field":"term","type":"nominal","sort":null,"scale":{"type":"point","padding":0.6},"axis":{"title":null,"grid":true,"labelPadding":16}},"size":{"field":"count","type":"quantitative","scale":{"domain":[1,12.5],"range":[256,1369]},"legend":null},"color":{"field":"p","type":"quantitative","scale":{"domain":[1.5,4.03],"range":["#00ff00","#ff0000"],"interpolate":"lab"},"legend":null}}},
{"data":{"values":[{"a":104.1,"b":113.9,"n":"CC"}]},"layer":[{"mark":{"type":"rect","fill":"#d3d3d3","stroke":"#666","strokeWidth":3},"encoding":{"x":{"field":"a","type":"quantitative"},"x2":{"field":"b"}}},{"mark":{"type":"text","fontSize":26,"angle":90,"color":"#222"},"encoding":{"x":{"datum":109,"type":"quantitative"},"text":{"field":"n"}}}]}
]},
{"width":460,"height":244,"view":{"stroke":"#7a7a7a","strokeWidth":4},"layer":[
{"data":{"values":[{"v":37.5},{"v":62.5},{"v":87.5}]},"mark":{"type":"rule","color":"#f1f1f1","strokeWidth":2},"encoding":{"x":{"field":"v","type":"quantitative","scale":{"domain":[11.15,113.9],"nice":false,"zero":false},"axis":{"values":[25,50,75,100],"title":null,"labelPadding":6}}}},
{"data":{"values":[{"term":"protein binding","rich":100,"count":12.5,"p":2.15},{"term":"identical Protein binding","rich":46,"count":5,"p":2.6},{"term":"transcription factor binding","rich":15.2,"count":1,"p":1.5},{"term":"nuclear receptor activity","rich":15.2,"count":1,"p":1.5}]},"mark":{"type":"point","filled":true,"opacity":1},"encoding":{"x":{"field":"rich","type":"quantitative","scale":{"domain":[11.15,113.9],"nice":false,"zero":false},"axis":{"values":[25,50,75,100],"title":null,"labelPadding":6}},"y":{"field":"term","type":"nominal","sort":null,"scale":{"type":"point","padding":0.6},"axis":{"title":null,"grid":true,"labelPadding":16}},"size":{"field":"count","type":"quantitative","scale":{"domain":[1,12.5],"range":[256,1369]},"legend":null},"color":{"field":"p","type":"quantitative","scale":{"domain":[1.5,4.03],"range":["#00ff00","#ff0000"],"interpolate":"lab"},"legend":null}}},
{"data":{"values":[{"a":104.1,"b":113.9,"n":"MF"}]},"layer":[{"mark":{"type":"rect","fill":"#d3d3d3","stroke":"#666","strokeWidth":3},"encoding":{"x":{"field":"a","type":"quantitative"},"x2":{"field":"b"}}},{"mark":{"type":"text","fontSize":26,"angle":90,"color":"#222"},"encoding":{"x":{"datum":109,"type":"quantitative"},"text":{"field":"n"}}}]}
]}
],"spacing":14,"bounds":"flush","align":"none"}
],"spacing":0,"bounds":"flush","align":"none"},
{"resolve":{"scale":{"color":"independent"}},"hconcat":[
{"width":1118,"height":904,"data":{"values":[]},"mark":"rect","encoding":{}},
{"width":602,"height":904,"view":{"stroke":"#7a7a7a","strokeWidth":4},"layer":[
{"data":{"values":[{"v":1.5},{"v":4.5},{"v":7.5},{"v":10.5}]},"mark":{"type":"rule","color":"#f1f1f1","strokeWidth":2},"encoding":{"x":{"field":"v","type":"quantitative","scale":{"domain":[-0.55,11.55],"nice":false},"axis":{"values":[0,3,6,9],"title":"Counts","labelPadding":6,"titlePadding":4,"titleX":270}}}},
{"data":{"values":[{"path":"Neutrophil extracellular trap formation","counts":11,"p":5.15},{"path":"Alzheimer disease","counts":11,"p":3.05},{"path":"NF-kappa B signaling pathway","counts":5,"p":2.45},{"path":"PI3K-Akt signaling pathway","counts":9,"p":2.4},{"path":"cAMP signaling pathway","counts":7,"p":2.35},{"path":"Toll-like receptor signaling pathway","counts":5,"p":2.32},{"path":"Leukocyte transendothelial migration","counts":5,"p":2.25},{"path":"AMPK signaling pathway","counts":5,"p":2.2},{"path":"Platelet activation","counts":5,"p":2.2},{"path":"Chemokine signaling pathway","counts":6,"p":2.1},{"path":"EGFR tyrosine kinase inhibitor resistance","counts":4,"p":2.05},{"path":"Rap1 signaling pathway","counts":6,"p":1.95},{"path":"Phospholipase D signaling pathway","counts":5,"p":1.8}]},"mark":{"type":"bar"},"encoding":{"x":{"field":"counts","type":"quantitative","scale":{"domain":[-0.55,11.55],"nice":false},"axis":{"values":[0,3,6,9],"title":"Counts","labelPadding":6,"titlePadding":4,"titleX":270}},"y":{"field":"path","type":"nominal","sort":null,"scale":{"paddingInner":0.1,"paddingOuter":0.15},"axis":{"title":null,"grid":true,"labelPadding":24}},"color":{"field":"p","type":"quantitative","scale":{"domain":[1.8,5.15],"range":["#0000ff","#ff0000"],"interpolate":"lab"},"legend":{"orient":"none","legendX":629,"legendY":304,"title":"-log₁₀(pvalue)","values":[2,3,4,5],"gradientLength":246,"gradientThickness":47,"titlePadding":25,"labelOffset":6,"encoding":{"title":{"dx":{"value":-21}}}}}}}
]},
{"width":1200,"height":904,"data":{"values":[]},"mark":"rect","encoding":{}},
{"width":489,"height":915,"view":{"stroke":"#7a7a7a","strokeWidth":4},"layer":[
{"data":{"values":[{"v":0.5},{"v":1.5},{"v":2.5},{"v":3.5}]},"mark":{"type":"rule","color":"#f1f1f1","strokeWidth":2},"encoding":{"x":{"field":"v","type":"quantitative","scale":{"domain":[-0.2,4.2],"nice":false},"axis":{"values":[0,1,2,3,4],"title":"Counts","labelPadding":6,"titlePadding":6,"titleX":251}}}},
{"data":{"values":[{"path":"Leishmaniasis","counts":4,"p":3.82},{"path":"Hif-1 signaling pathway","counts":4,"p":3.3},{"path":"Neutrophil extracellular trap formation","counts":4,"p":2.95},{"path":"Lipid and atherosclerosis","counts":4,"p":2.75},{"path":"Inflammatory bowel disease","counts":3,"p":2.6},{"path":"Adipocytokine signaling pathway","counts":3,"p":2.55},{"path":"NF-kappa B signaling pathway","counts":3,"p":2.2},{"path":"Human papillomavirus infection","counts":3,"p":2.15},{"path":"Insulin resistance","counts":3,"p":2.15},{"path":"Fluid shear stress and atherosclerosis","counts":3,"p":2.0},{"path":"Hepatitis B","counts":3,"p":1.95},{"path":"Chemical carcinogenesis-receptor activation","counts":3,"p":1.55},{"path":"Chemical carcinogenesis-reactive oxygen species","counts":3,"p":1.43}]},"mark":{"type":"bar"},"encoding":{"x":{"field":"counts","type":"quantitative","scale":{"domain":[-0.2,4.2],"nice":false},"axis":{"values":[0,1,2,3,4],"title":"Counts","labelPadding":6,"titlePadding":6,"titleX":251}},"y":{"field":"path","type":"nominal","sort":null,"scale":{"paddingInner":0.1,"paddingOuter":0.15},"axis":{"title":null,"grid":true,"labelPadding":21}},"color":{"field":"p","type":"quantitative","scale":{"domain":[1.43,3.82],"range":["#0000ff","#ff0000"],"interpolate":"lab"},"legend":{"orient":"none","legendX":495,"legendY":307,"title":"-log₁₀(pvalue)","values":[1.5,2,2.5,3,3.5],"format":".1f","gradientLength":246,"gradientThickness":48,"titlePadding":28,"labelOffset":6,"encoding":{"title":{"dx":{"value":-44}}}}}}}
]}
],"spacing":0,"bounds":"flush","align":"none"}
],"spacing":0,"align":"none"}
